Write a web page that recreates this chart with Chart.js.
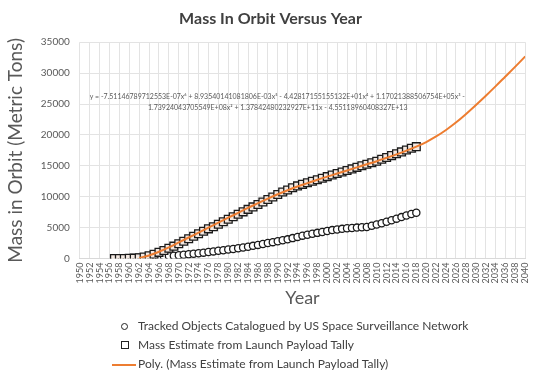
<!DOCTYPE html>
<html>
<head>
<meta charset="utf-8">
<script src="https://cdn.jsdelivr.net/npm/chart.js@4/dist/chart.umd.min.js"></script>
<style>
  html, body { margin: 0; padding: 0; background: #fff; }
  #wrap { position: relative; width: 540px; height: 379px; }
  #legend { position: absolute; left: 116px; top: 316px; font: 12px Lato, sans-serif; color: #404040; }
  #legend div { height: 19px; line-height: 19px; display: flex; align-items: center; }
  .mk { width: 16px; display: inline-block; margin-right: 6px; position: relative; height: 10px; }
  .mk.circ::after { content: ''; position: absolute; left: 5px; top: 2px; width: 5px; height: 5px; border: 1.3px solid #222; border-radius: 50%; }
  .mk.sq::after { content: ''; position: absolute; left: 5px; top: 1px; width: 6px; height: 6px; border: 1.3px solid #222; }
  .mk.ln::after { content: ''; position: absolute; left: -4px; top: 5px; width: 24px; height: 2px; background: #ed7d31; }
</style>
</head>
<body>
<div id="wrap">
  <canvas id="chart" width="540" height="379"></canvas>
  <div id="legend">
    <div><span class="mk circ"></span>Tracked Objects Catalogued by US Space Surveillance Network</div>
    <div><span class="mk sq"></span>Mass Estimate from Launch Payload Tally</div>
    <div><span class="mk ln"></span>Poly. (Mass Estimate from Launch Payload Tally)</div>
  </div>
</div>
<script>
// Years 1957..2018
const years = [];
for (let y = 1957; y <= 2018; y++) years.push(y);

// Mass estimate from launch payload tally (metric tons)
const massEstimate = [
  0, 5, 15, 30, 60, 120, 250, 450, 700, 1000,
  1300, 1650, 2000, 2400, 2800, 3200, 3600, 4000, 4400, 4800,
  5150, 5550, 5950, 6350, 6750, 7150, 7550, 7950, 8350, 8750,
  9150, 9550, 9950, 10350, 10750, 11100, 11450, 11750, 12000, 12250,
  12500, 12750, 13000, 13250, 13500, 13750, 14000, 14250, 14500, 14750,
  15000, 15250, 15500, 15750, 16050, 16350, 16650, 16950, 17250, 17550,
  17850, 18100
];

// Tracked objects catalogued by US Space Surveillance Network
const trackedObjects = [
  0, 5, 10, 20, 40, 70, 110, 150, 200, 260,
  320, 390, 450, 520, 600, 680, 760, 850, 950, 1050,
  1150, 1250, 1350, 1450, 1550, 1650, 1780, 1900, 2050, 2200,
  2350, 2500, 2650, 2800, 2950, 3100, 3300, 3500, 3700, 3850,
  4000, 4150, 4300, 4450, 4600, 4700, 4800, 4900, 4950, 5000,
  5050, 5100, 5300, 5500, 5700, 5950, 6200, 6450, 6700, 6950,
  7200, 7400
];

// Polynomial trendline
const polyYears = [
  1962, 1964, 1966, 1968, 1970, 1972, 1974, 1976, 1978, 1980,
  1982, 1984, 1986, 1988, 1990, 1992, 1994, 1996, 1998, 2000,
  2002, 2004, 2006, 2008, 2010, 2012, 2014, 2016, 2018, 2020,
  2022, 2024, 2026, 2028, 2030, 2032, 2034, 2036, 2038, 2040
];
const polyValues = [
  100, 500, 1100, 1800, 2600, 3400, 4200, 5000, 5800, 6600,
  7400, 8200, 8950, 9700, 10400, 11050, 11650, 12200, 12750, 13250,
  13750, 14250, 14750, 15250, 15750, 16300, 16850, 17450, 18100, 18850,
  19750, 20800, 22000, 23350, 24800, 26300, 27850, 29450, 31050, 32700
];

const equationLines = [
  'y = -7.51146789712553E-07x\u2076 + 8.93540141081806E-03x\u2075 - 4.42817155155132E+01x\u2074 + 1.17021388506754E+05x\u00b3 -',
  '1.73924043705549E+08x\u00b2 + 1.37842480232927E+11x - 4.55118960408327E+13'
];

const pts = (xs, ys) => xs.map((x, i) => ({ x: x, y: ys[i] }));

// trendline equation label
const equationPlugin = {
  id: 'equation',
  afterDatasetsDraw(chart) {
    const { ctx, scales } = chart;
    ctx.save();
    ctx.font = '7px Lato, sans-serif';
    ctx.fillStyle = '#595959';
    ctx.textBaseline = 'middle';
    ctx.textAlign = 'left';
    ctx.fillText(equationLines[0], scales.x.getPixelForValue(1952), scales.y.getPixelForValue(26200));
    ctx.textAlign = 'center';
    ctx.fillText(equationLines[1], scales.x.getPixelForValue(1990), scales.y.getPixelForValue(24400));
    ctx.restore();
  }
};

new Chart(document.getElementById('chart'), {
  type: 'scatter',
  data: {
    datasets: [
      {
        label: 'Poly. (Mass Estimate from Launch Payload Tally)',
        type: 'line',
        data: pts(polyYears, polyValues),
        borderColor: '#ed7d31',
        borderWidth: 2,
        pointRadius: 0,
        cubicInterpolationMode: 'monotone',
        order: 0
      },
      {
        label: 'Tracked Objects Catalogued by US Space Surveillance Network',
        data: pts(years, trackedObjects),
        pointStyle: 'circle',
        pointRadius: 3.6,
        backgroundColor: '#ffffff',
        borderColor: '#1a1a1a',
        borderWidth: 1.3,
        order: 2
      },
      {
        label: 'Mass Estimate from Launch Payload Tally',
        data: pts(years, massEstimate),
        pointStyle: 'rect',
        pointRadius: 5.5,
        backgroundColor: '#f4e9e2',
        borderColor: '#1a1a1a',
        borderWidth: 1.3,
        order: 1
      }
    ]
  },
  options: {
    responsive: false,
    animation: false,
    layout: { padding: { left: 4, right: 3, top: 6, bottom: 70 } },
    plugins: {
      legend: { display: false },
      tooltip: { enabled: false },
      title: {
        display: true,
        text: 'Mass In Orbit Versus Year',
        color: '#404040',
        font: { family: 'Lato', size: 16, weight: 'bold' },
        padding: { top: 3, bottom: 14 }
      }
    },
    scales: {
      x: {
        type: 'linear',
        min: 1950,
        max: 2040,
        grid: { color: '#e3e3e3', drawTicks: false },
        border: { color: '#d9d9d9' },
        ticks: {
          stepSize: 2,
          minRotation: 90,
          maxRotation: 90,
          autoSkip: false,
          padding: 4,
          color: '#595959',
          font: { family: 'Lato', size: 9 },
          callback: v => String(v)
        },
        title: {
          display: true,
          text: 'Year',
          color: '#595959',
          font: { family: 'Lato', size: 18 },
          padding: { top: 0, bottom: 0 }
        }
      },
      y: {
        min: 0,
        max: 35000,
        grid: { color: '#e3e3e3', drawTicks: false },
        border: { display: false },
        ticks: {
          stepSize: 5000,
          padding: 10,
          color: '#595959',
          font: { family: 'Lato', size: 10 },
          callback: v => String(v)
        },
        title: {
          display: true,
          text: 'Mass in Orbit (Metric Tons)',
          color: '#595959',
          font: { family: 'Lato', size: 19 },
          padding: { top: 0, bottom: 4 }
        }
      }
    }
  },
  plugins: [equationPlugin]
});
</script>
</body>
</html>
